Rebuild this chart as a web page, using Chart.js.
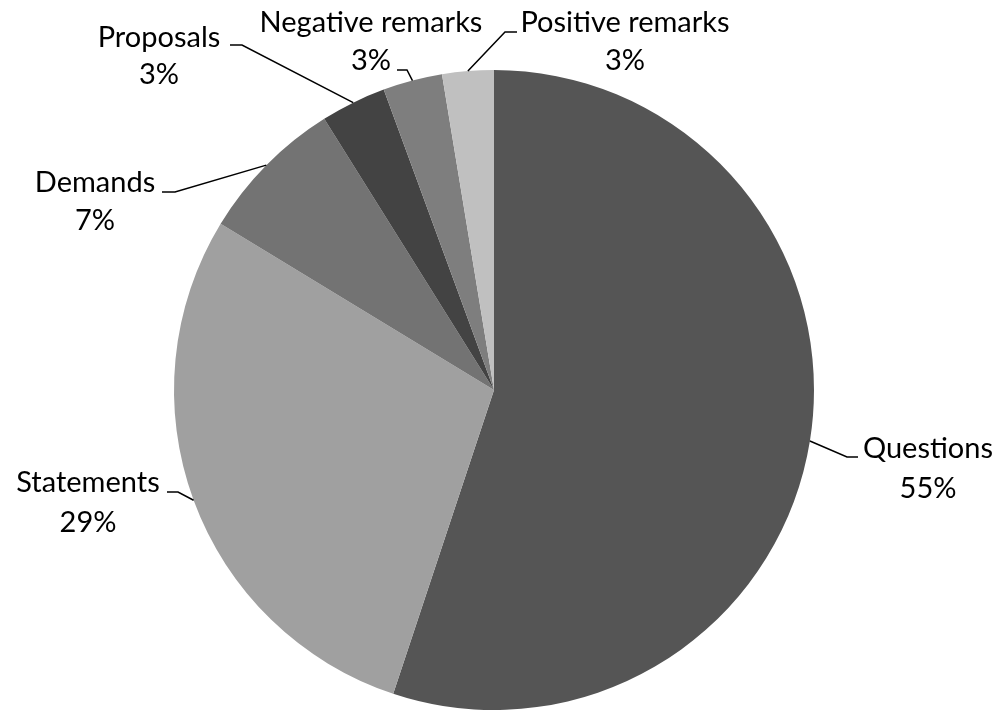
<!DOCTYPE html>
<html>
<head>
<meta charset="utf-8">
<script src="https://cdn.jsdelivr.net/npm/chart.js@4.4.1/dist/chart.umd.min.js"></script>
<style>
html,body{margin:0;padding:0;background:#fff;}
#wrap{width:1000px;height:712px;position:relative;}
</style>
</head>
<body>
<div id="wrap"><canvas id="c" width="1000" height="712"></canvas></div>
<script>
// ---- data ----
const categories = ["Questions", "Statements", "Demands", "Proposals", "Negative remarks", "Positive remarks"];
const values = [55.1, 28.6, 7.4, 3.3, 3.0, 2.6];
const colors = ["#555555", "#a0a0a0", "#737373", "#434343", "#7e7e7e", "#c0c0c0"];

// ---- label layout: [centreX, baseline line 1, baseline line 2] and leader [elbowX, elbowY, endX] ----
const labelPos = [[928,458,498],[88,492,532],[95,192,230],[159,47,84],[371,32,70],[625,32,70]];
const leaderElbow = [[847,457,858],[178,492,167],[175,192,162],[242,45,230],[407,70,397],[505,32,517]];

const FONT = '29px "Lato", "Open Sans", sans-serif';

const labelPlugin = {
  id: 'pieLabels',
  afterDraw(chart) {
    const ctx = chart.ctx;
    const meta = chart.getDatasetMeta(0);
    const total = values.reduce((a,b)=>a+b,0);
    ctx.save();
    meta.data.forEach((arc, i) => {
      const p = arc.getProps(['x','y','startAngle','endAngle','outerRadius'], true);
      const mid = (p.startAngle + p.endAngle) / 2;
      const sx = p.x + Math.cos(mid) * p.outerRadius;
      const sy = p.y + Math.sin(mid) * p.outerRadius;
      const e = leaderElbow[i];
      ctx.beginPath();
      ctx.strokeStyle = '#000';
      ctx.lineWidth = 1.5;
      ctx.moveTo(sx, sy);
      ctx.lineTo(e[0], e[1]);
      ctx.lineTo(e[2], e[1]);
      ctx.stroke();
      ctx.fillStyle = '#000';
      ctx.font = FONT;
      ctx.textAlign = 'center';
      ctx.textBaseline = 'alphabetic';
      ctx.fillText(categories[i], labelPos[i][0], labelPos[i][1]);
      ctx.fillText(Math.round(values[i] / total * 100) + '%', labelPos[i][0], labelPos[i][2]);
    });
    ctx.restore();
  }
};

new Chart(document.getElementById('c'), {
  type: 'pie',
  data: {
    labels: categories,
    datasets: [{
      data: values,
      backgroundColor: colors,
      borderWidth: 0
    }]
  },
  options: {
    responsive: false,
    animation: false,
    layout: { padding: { top: 70, bottom: 2, left: 174, right: 186 } },
    plugins: { legend: { display: false }, tooltip: { enabled: false } }
  },
  plugins: [labelPlugin]
});
</script>
</body>
</html>
